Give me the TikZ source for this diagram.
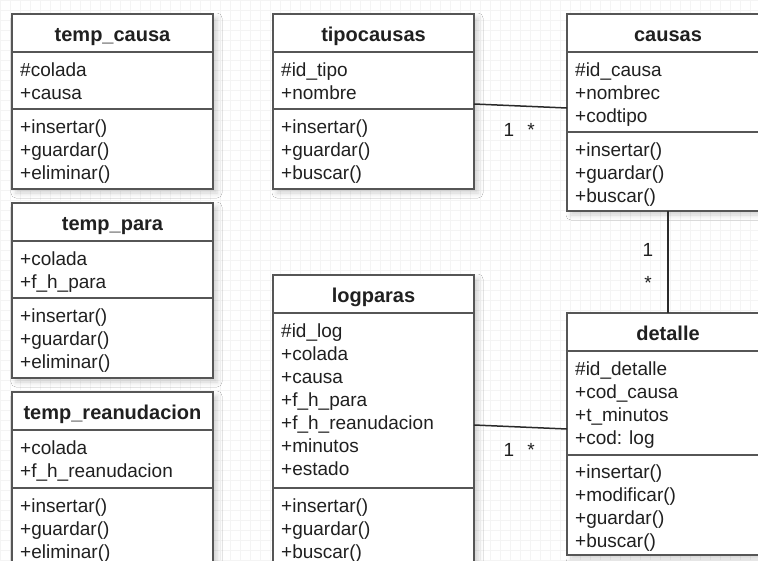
\documentclass[tikz,border=0pt]{standalone}
\usepackage{fontspec}
\setmainfont{Liberation Sans}
\usetikzlibrary{calc,shadows.blur}

\definecolor{edge}{HTML}{565656}
\definecolor{ink}{HTML}{202020}
\definecolor{link}{HTML}{2A2A2A}
\definecolor{gridc}{HTML}{F4F4F4}

\tikzset{
  classbox/.style={draw=edge, line width=2pt, fill=white, rectangle,
    inner sep=0pt, outer sep=0pt,
    blur shadow={shadow xshift=4pt, shadow yshift=-4pt,
      shadow blur radius=5pt, shadow opacity=18}},
  sepline/.style={draw=edge, line width=2pt},
  titletxt/.style={anchor=base, inner sep=0pt, text=ink,
    font=\fontsize{20}{23}\selectfont\bfseries},
  txt/.style={anchor=base west, inner sep=0pt, text=ink,
    font=\fontsize{19}{23}\selectfont},
  mult/.style={anchor=base, inner sep=0pt, text=ink,
    font=\fontsize{19}{23}\selectfont},
  assoc/.style={draw=link, line width=1.5pt},
  gridline/.style={draw=gridc, line width=0.5pt}
}

% #1 name, #2 left, #3 top, #4 width, #5 header rule, #6 attribute rule,
% #7 bottom, #8 class name
\newcommand\umlclass[8]{%
  \node[classbox, anchor=north west, minimum width=#4pt,
        minimum height=#7pt-#3pt] (#1) at (#2,#3) {};
  \draw[sepline] (#2,#5) -- ++(#4,0);
  \draw[sepline] (#2,#6) -- ++(#4,0);
  \node[titletxt] (#1-name) at (#2+#4/2,#3+27) {#8};
}

\begin{document}
\begin{tikzpicture}[x=1pt,y=-1pt]
  \useasboundingbox (0,0) rectangle (758,560);
  \clip (0,0) rectangle (758,560);
  \fill[white] (0,0) rectangle (758,560);

  % background grid
  \foreach \gx in {0,10,...,760} \draw[gridline] (\gx,0) -- (\gx,560);
  \foreach \gy in {0,10,...,560} \draw[gridline] (0,\gy) -- (758,\gy);

  % ---------- temp_causa
  \umlclass{tempcausa}{12}{14}{201}{52}{109}{189}{temp\_causa}
  \foreach \t [count=\i from 0] in {\#colada,+causa}
    \node[txt] (tempcausa-a\i) at (20,76+23*\i) {\t};
  \foreach \t [count=\i from 0] in {+insertar(),+guardar(),+eliminar()}
    \node[txt] (tempcausa-m\i) at (20,133+23*\i) {\t};

  % ---------- temp_para
  \umlclass{temppara}{12}{203}{201}{241}{298}{378}{temp\_para}
  \foreach \t [count=\i from 0] in {+colada,+f\_h\_para}
    \node[txt] (temppara-a\i) at (20,265+23*\i) {\t};
  \foreach \t [count=\i from 0] in {+insertar(),+guardar(),+eliminar()}
    \node[txt] (temppara-m\i) at (20,322+23*\i) {\t};

  % ---------- temp_reanudacion
  \umlclass{tempreanud}{12}{392}{201}{430}{488}{568}{temp\_reanudacion}
  \foreach \t [count=\i from 0] in {+colada,+f\_h\_reanudacion}
    \node[txt] (tempreanud-a\i) at (20,454+23*\i) {\t};
  \foreach \t [count=\i from 0] in {+insertar(),+guardar(),+eliminar()}
    \node[txt] (tempreanud-m\i) at (20,512+23*\i) {\t};

  % ---------- tipocausas
  \umlclass{tipocausas}{273}{14}{201}{52}{109}{189}{tipocausas}
  \foreach \t [count=\i from 0] in {\#id\_tipo,+nombre}
    \node[txt] (tipocausas-a\i) at (281,76+23*\i) {\t};
  \foreach \t [count=\i from 0] in {+insertar(),+guardar(),+buscar()}
    \node[txt] (tipocausas-m\i) at (281,133+23*\i) {\t};

  % ---------- logparas
  \umlclass{logparas}{273}{275}{201}{313}{488}{568}{logparas}
  \foreach \t [count=\i from 0] in {\#id\_log,+colada,+causa,+f\_h\_para,
      +f\_h\_reanudacion,+minutos,+estado}
    \node[txt] (logparas-a\i) at (281,337+23*\i) {\t};
  \foreach \t [count=\i from 0] in {+insertar(),+guardar(),+buscar()}
    \node[txt] (logparas-m\i) at (281,512+23*\i) {\t};

  % ---------- causas
  \umlclass{causas}{567}{14}{202}{52}{132}{211}{causas}
  \foreach \t [count=\i from 0] in {\#id\_causa,+nombrec,+codtipo}
    \node[txt] (causas-a\i) at (575,76+23*\i) {\t};
  \foreach \t [count=\i from 0] in {+insertar(),+guardar(),+buscar()}
    \node[txt] (causas-m\i) at (575,156+23*\i) {\t};

  % ---------- detalle
  \umlclass{detalle}{567}{313}{202}{351}{455}{555}{detalle}
  \foreach \t [count=\i from 0] in {\#id\_detalle,+cod\_causa,+t\_minutos,+cod: log}
    \node[txt] (detalle-a\i) at (575,375+23*\i) {\t};
  \foreach \t [count=\i from 0] in {+insertar(),+modificar(),+guardar(),+buscar()}
    \node[txt] (detalle-m\i) at (575,478+23*\i) {\t};

  % ---------- associations
  \draw[assoc] ([yshift=-90pt]tipocausas.north east) -- ([yshift=-94pt]causas.north west);
  \node[mult] (m1a) at (509,136) {1};
  \node[mult] (m1b) at (531,136) {*};

  \draw[assoc] ([yshift=-150pt]logparas.north east) -- ([yshift=-116pt]detalle.north west);
  \node[mult] (m2a) at (509,456) {1};
  \node[mult] (m2b) at (531,456) {*};

  \draw[assoc] (causas.south) -- (detalle.north);
  \node[mult] (m3a) at (648,256) {1};
  \node[mult] (m3b) at (648,289) {*};
\end{tikzpicture}
\end{document}
